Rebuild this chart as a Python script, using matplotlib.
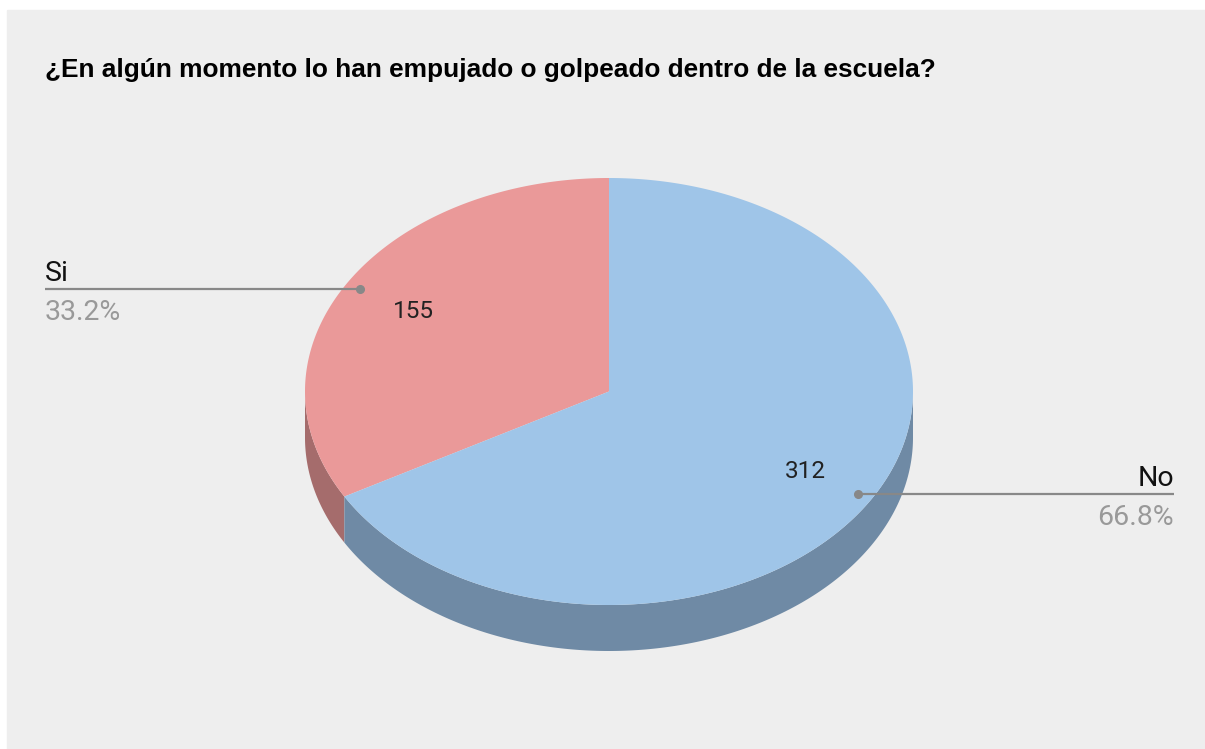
import numpy as np
import matplotlib
matplotlib.use('Agg')
import matplotlib.pyplot as plt
from matplotlib.patches import Polygon, Rectangle

titulo = '¿En algún momento lo han empujado o golpeado dentro de la escuela?'
etiquetas = ['Si', 'No']
valores = [155, 312]
col_top = ['#EA9999', '#9FC5E8']
col_side = ['#A56C6C', '#6F8AA5']

# geometrie du pie "3D" (pixels)
cx, cy = 609, 391.5
rx, ry = 304, 213.5
prof = 46

fig = plt.figure(figsize=(12.05, 7.49), dpi=100)
fig.patch.set_facecolor('white')
ax = fig.add_axes([0, 0, 1, 1])
ax.set_xlim(0, 1205)
ax.set_ylim(749, 0)
ax.axis('off')
ax.add_patch(Rectangle((7, 10), 1205, 749, color='#EEEEEE', zorder=0))

def pt(theta, r=1.0):
	t = np.radians(theta)
	return cx - rx*r*np.sin(t), cy - ry*r*np.cos(t)

total = float(sum(valores))
fracs = [v/total for v in valores]
bornes = np.concatenate([[0], np.cumsum(fracs)*360])

# cotes visibles (entre 90 et 270 degres)
for i in range(len(valores)):
	a0, a1 = max(bornes[i], 90), min(bornes[i+1], 270)
	if a1 <= a0:
		continue
	th = np.linspace(a0, a1, 200)
	x, y = pt(th)
	xs = np.concatenate([x, x[::-1]])
	ys = np.concatenate([y, (y+prof)[::-1]])
	ax.add_patch(Polygon(np.column_stack([xs, ys]), closed=True, fc=col_side[i], ec='none', zorder=2))

# dessus
for i in range(len(valores)):
	th = np.linspace(bornes[i], bornes[i+1], 300)
	x, y = pt(th)
	xs = np.concatenate([[cx], x])
	ys = np.concatenate([[cy], y])
	ax.add_patch(Polygon(np.column_stack([xs, ys]), closed=True, fc=col_top[i], ec='none', zorder=3))

# valeurs dans les parts + etiquettes avec lignes
for i in range(len(valores)):
	mid = (bornes[i]+bornes[i+1])/2
	tx, ty = pt(mid, 0.746)
	ax.text(tx, ty, str(valores[i]), ha='center', va='center', fontsize=17.5,
		family='Roboto', color='#222222', zorder=5)
	dx, dy = pt(mid, 0.95)
	pct = '%.1f%%' % (fracs[i]*100)
	if dx < cx:
		xend, ha = 45, 'left'
	else:
		xend, ha = 1174, 'right'
	ax.plot([dx, xend], [dy, dy], color='#888888', lw=1.6, zorder=4, solid_capstyle='butt')
	ax.plot([dx], [dy], marker='o', ms=5.5, color='#888888', zorder=4)
	ax.text(xend, dy-8, etiquetas[i], ha=ha, va='baseline', fontsize=20.5,
		family='Roboto', color='#111111', zorder=5)
	ax.text(xend, dy+10, pct, ha=ha, va='top', fontsize=20.5,
		family='Roboto', color='#999999', zorder=5)

ax.text(45, 77, titulo, ha='left', va='baseline', fontsize=18.9, fontweight='bold',
	family='Liberation Sans', color='#000000')

plt.savefig('out.png', dpi=100, facecolor=fig.get_facecolor())
